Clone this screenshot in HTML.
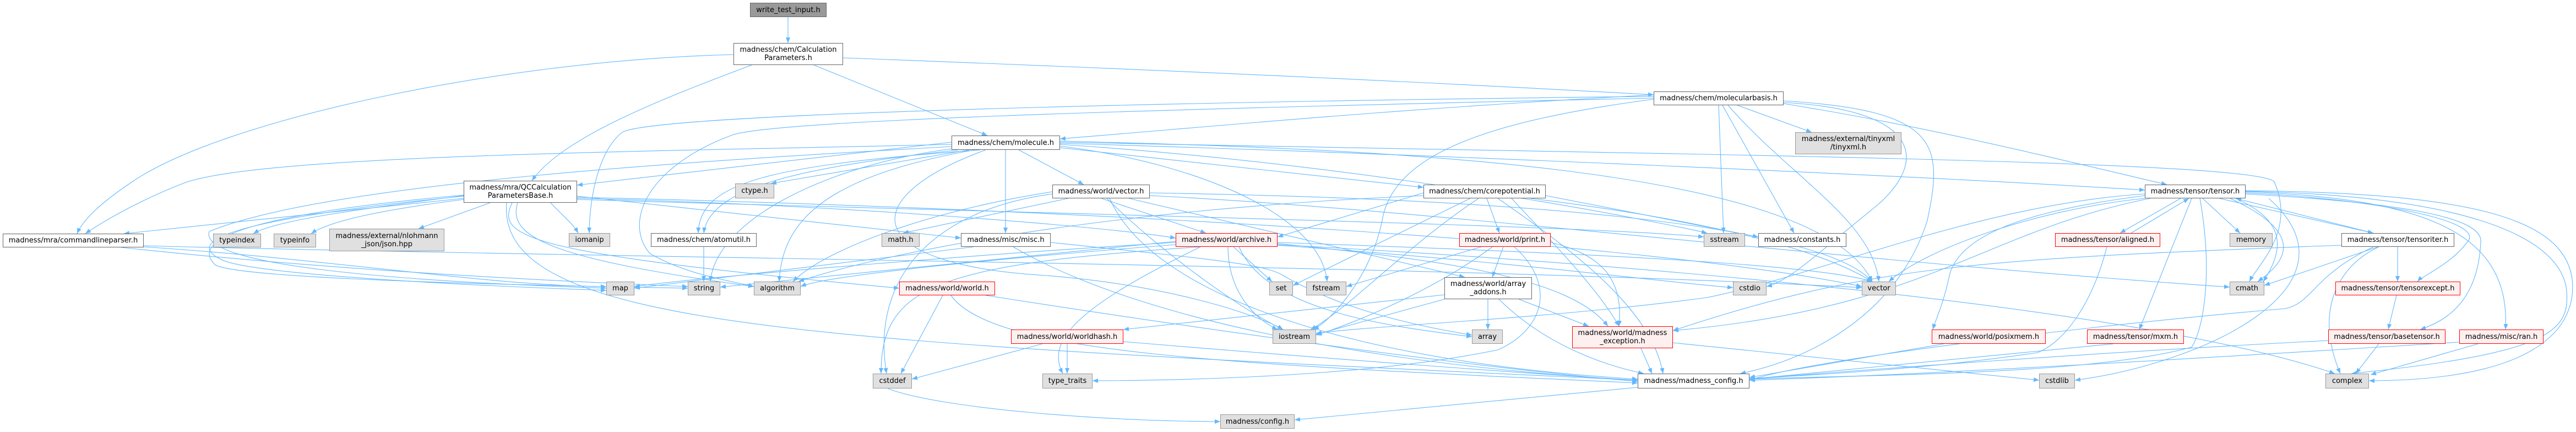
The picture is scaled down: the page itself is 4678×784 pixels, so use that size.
<!DOCTYPE html>
<html><head><meta charset="utf-8"><style>
html,body{margin:0;padding:0;background:#fff;}
#c{position:relative;width:4678px;height:784px;overflow:hidden;background:#fff;}
svg{position:absolute;left:0;top:0;}
.n{position:absolute;box-sizing:border-box;border:1px solid #666;background:#fff;display:flex;align-items:center;justify-content:center;text-align:center;font-family:"DejaVu Sans","Liberation Sans",sans-serif;font-size:13px;line-height:15px;color:#000;white-space:nowrap;}
.g{background:#e0e0e0;border-color:#999;}
.r{background:#fff0f0;border-color:#f00;}
.root{background:#999;border-color:#666;}
</style></head><body><div id="c">
<svg width="4678" height="784" viewBox="0 0 4678 784">
<defs><marker id="a" markerUnits="userSpaceOnUse" markerWidth="11" markerHeight="9" refX="10" refY="4" orient="auto"><path d="M0,0 L10,4 L0,8 z" fill="#63b8ff"/></marker></defs>
<g fill="none" stroke="#63b8ff" stroke-width="1.1" marker-end="url(#a)">
<path d="M1431,31 L1431,78"/>
<path d="M1365,118 C1200,180 1020,250 966,328"/>
<path d="M1478,118 L1793,246"/>
<path d="M1531,105 C2200,130 2700,155 3003,172"/>
<path d="M1332,99 C900,110 400,220 240,330 C180,370 150,400 140,424"/>
<path d="M1728,258 L1048,336"/>
<path d="M1728,262 C1200,275 500,280 340,330 C260,360 190,400 155,424"/>
<path d="M1728,266 C1300,290 600,330 380,420 C360,480 700,510 1101,523"/>
<path d="M1740,272 C1500,300 1290,330 1278,423"/>
<path d="M1780,272 C1400,300 1270,330 1268,423"/>
<path d="M1760,272 L1400,333"/>
<path d="M1770,272 C1500,320 1420,400 1415,511"/>
<path d="M1850,272 L1968,335"/>
<path d="M1826,272 L1826,423"/>
<path d="M1925,268 L2585,340"/>
<path d="M1925,265 C2200,300 2400,400 2410,511"/>
<path d="M1925,262 C2500,300 3000,400 3100,423"/>
<path d="M1925,260 C2600,280 3500,320 3895,345"/>
<path d="M1925,258 C3000,280 4100,290 4130,330 C4170,420 4100,480 4085,511"/>
<path d="M1925,256 C2500,270 3300,300 3400,511"/>
<path d="M1790,272 C1550,360 1560,480 1900,500 C2150,520 2300,580 2330,598"/>
<path d="M1728,270 C1500,300 1300,400 1290,511"/>
<path d="M842,355 C650,380 500,400 460,424"/>
<path d="M842,362 C700,380 600,400 565,424"/>
<path d="M890,368 L760,415"/>
<path d="M842,360 L225,424"/>
<path d="M1000,368 C1020,390 1040,405 1050,423"/>
<path d="M842,356 C600,380 300,420 400,470 C450,500 900,520 1101,527"/>
<path d="M842,354 C550,380 330,420 390,480 C430,510 1100,520 1249,523"/>
<path d="M940,368 C920,430 1000,470 1369,520"/>
<path d="M930,368 C900,430 950,460 1633,523"/>
<path d="M1048,356 L1745,432"/>
<path d="M1048,360 C1500,370 2000,410 2135,432"/>
<path d="M1048,358 C2000,380 3000,440 3381,520"/>
<path d="M920,368 C900,600 1500,620 2974,690"/>
<path d="M1048,362 C2000,390 2900,410 3094,430"/>
<path d="M261,448 C600,470 900,520 1101,520"/>
<path d="M220,449 C600,490 1000,510 1249,520"/>
<path d="M261,446 C1200,470 2600,480 3381,522"/>
<path d="M1278,448 L1278,511"/>
<path d="M2000,360 L2190,423"/>
<path d="M1940,360 L1640,423"/>
<path d="M2010,360 C2100,450 2250,560 2330,598"/>
<path d="M1911,348 C1700,380 1500,450 1440,511"/>
<path d="M2088,350 C2700,360 3300,400 3400,511"/>
<path d="M2050,360 L2660,503"/>
<path d="M2015,360 C2100,550 2500,660 2974,688"/>
<path d="M1911,352 C1700,380 1580,500 1610,678"/>
<path d="M2088,355 C2600,380 3300,470 4049,521"/>
<path d="M1768,448 L1152,523"/>
<path d="M1840,448 C2100,600 2600,670 2974,690"/>
<path d="M1908,440 C2200,470 2300,480 2330,500 C2400,540 2500,580 2673,608"/>
<path d="M1712,536 L1636,678"/>
<path d="M1790,536 C2200,600 2700,670 2974,692"/>
<path d="M1727,536 C1800,640 2200,660 2974,695"/>
<path d="M1893,624 L1656,688"/>
<path d="M1938,624 L1938,678"/>
<path d="M2040,620 C2400,650 2800,680 2974,690"/>
<path d="M2240,448 L2310,511"/>
<path d="M2230,448 C2230,530 2280,580 2320,598"/>
<path d="M2250,448 C2300,560 2500,590 2673,611"/>
<path d="M2135,440 C1800,460 1300,500 1152,520"/>
<path d="M2135,438 L1308,521"/>
<path d="M2135,444 C1800,470 1500,500 1454,520"/>
<path d="M2180,448 C1700,480 1600,520 1600,678"/>
<path d="M2320,442 C2600,470 2850,500 2920,592"/>
<path d="M2320,440 C2900,460 3300,480 3400,511"/>
<path d="M2180,448 C1950,560 1900,620 1930,678"/>
<path d="M2320,444 C3000,480 3900,560 4240,678"/>
<path d="M2320,445 C2800,480 3000,510 3147,522"/>
<path d="M2690,448 L2445,520"/>
<path d="M2710,448 C2600,530 2450,590 2390,608"/>
<path d="M2730,448 L2710,503"/>
<path d="M2750,448 C2830,520 2800,600 2720,635 C2500,680 2200,690 1984,691"/>
<path d="M2816,440 C2900,460 2950,500 2940,592"/>
<path d="M2623,535 L2040,598"/>
<path d="M2623,543 L2390,607"/>
<path d="M2702,543 L2702,598"/>
<path d="M2758,543 L2885,592"/>
<path d="M2722,543 C2800,620 2900,660 2985,678"/>
<path d="M2670,360 L2348,518"/>
<path d="M2685,360 C2550,450 2450,560 2380,598"/>
<path d="M2700,360 L2723,423"/>
<path d="M2745,360 C2800,420 2900,520 2940,592"/>
<path d="M2585,350 L2320,430"/>
<path d="M2720,360 C2850,450 3000,560 3020,678"/>
<path d="M2780,360 C3100,400 3300,450 3400,511"/>
<path d="M2807,355 L3193,430"/>
<path d="M2585,355 C2000,380 1600,460 1450,511"/>
<path d="M2980,632 L3000,678"/>
<path d="M3038,622 L3703,690"/>
<path d="M2974,703 L2351,762"/>
<path d="M1612,705 C1700,740 2000,765 2216,765"/>
<path d="M3155,191 L3290,240"/>
<path d="M3121,191 L3130,423"/>
<path d="M3128,191 L3258,423"/>
<path d="M3138,191 C3250,320 3400,400 3412,511"/>
<path d="M3239,186 C3500,200 3500,300 3400,380 C3300,460 3250,510 3208,520"/>
<path d="M3239,183 C3520,200 3530,260 3500,400 C3450,560 3300,650 3160,678"/>
<path d="M3239,188 C3500,230 3700,280 3935,335"/>
<path d="M3003,172 C2500,200 2200,230 1925,252"/>
<path d="M3003,180 C2700,220 2530,280 2510,400 C2490,500 2420,580 2385,598"/>
<path d="M3003,175 C2500,180 1200,200 1130,240 C1080,280 1070,380 1070,423"/>
<path d="M3003,178 C2000,200 1400,220 1330,245 C1180,300 1130,400 1180,460 C1250,500 1330,510 1369,520"/>
<path d="M3960,360 L3850,423"/>
<path d="M3870,423 L3975,360"/>
<path d="M4000,360 L4068,423"/>
<path d="M4030,360 L4310,423"/>
<path d="M4310,423 L4060,360"/>
<path d="M4060,360 C4150,400 4150,450 4110,511"/>
<path d="M4050,360 C4180,420 4160,470 4100,511"/>
<path d="M4078,350 C4300,360 4520,400 4480,440 C4450,480 4400,500 4390,511"/>
<path d="M4078,352 C4400,370 4510,400 4505,440 C4500,540 4450,580 4395,598"/>
<path d="M4078,348 C4400,360 4560,420 4550,598"/>
<path d="M4078,346 C4500,350 4650,400 4670,500 C4680,560 4660,690 4302,691"/>
<path d="M4078,347 C4450,355 4640,420 4660,520 C4670,600 4640,640 4270,678"/>
<path d="M3895,355 C3700,380 3560,420 3540,500 C3530,550 3515,580 3510,598"/>
<path d="M3980,360 L3885,598"/>
<path d="M3895,360 C3700,380 3500,450 3430,511"/>
<path d="M3995,360 C4020,500 4000,600 3980,630 C3800,680 3400,680 3177,688"/>
<path d="M3895,352 C3600,370 3300,500 3100,540 C2800,580 2500,590 2390,605"/>
<path d="M3905,360 C3600,420 3500,560 3038,600"/>
<path d="M4120,360 C4300,520 4000,660 3768,690"/>
<path d="M3826,448 C3800,550 3750,620 3700,640 C3500,670 3300,680 3177,687"/>
<path d="M4354,448 L4354,511"/>
<path d="M4318,448 L4112,518"/>
<path d="M4320,448 C4250,480 4200,560 4250,678"/>
<path d="M4252,445 C3600,470 3400,480 3038,600"/>
<path d="M4310,448 C4200,500 4200,550 4150,560 C3800,590 3300,650 3177,690"/>
<path d="M4352,536 L4337,598"/>
<path d="M4320,624 L4278,678"/>
<path d="M4228,618 C3800,640 3400,670 3177,688"/>
<path d="M4500,624 L4305,680"/>
<path d="M4480,620 C4000,650 3500,680 3177,690"/>
<path d="M3530,624 L3177,685"/>
<path d="M3838,624 L3177,688"/>
</g></svg>

<div class="n root" style="left:1362px;top:5px;width:139px;height:26px">write_test_input.h</div>
<div class="n" style="left:1332px;top:78px;width:199px;height:40px">madness/chem/Calculation<br>Parameters.h</div>
<div class="n" style="left:842px;top:328px;width:206px;height:40px">madness/mra/QCCalculation<br>ParametersBase.h</div>
<div class="n" style="left:1728px;top:246px;width:197px;height:26px">madness/chem/molecule.h</div>
<div class="n" style="left:3003px;top:166px;width:236px;height:25px">madness/chem/molecularbasis.h</div>
<div class="n" style="left:5px;top:424px;width:256px;height:25px">madness/mra/commandlineparser.h</div>
<div class="n g" style="left:387px;top:424px;width:87px;height:25px">typeindex</div>
<div class="n g" style="left:497px;top:424px;width:77px;height:25px">typeinfo</div>
<div class="n g" style="left:598px;top:415px;width:209px;height:41px">madness/external/nlohmann<br>_json/json.hpp</div>
<div class="n g" style="left:1335px;top:333px;width:71px;height:27px">ctype.h</div>
<div class="n" style="left:1911px;top:335px;width:177px;height:25px">madness/world/vector.h</div>
<div class="n" style="left:2585px;top:335px;width:222px;height:25px">madness/chem/corepotential.h</div>
<div class="n g" style="left:3260px;top:240px;width:193px;height:40px">madness/external/tinyxml<br>/tinyxml.h</div>
<div class="n" style="left:3895px;top:335px;width:183px;height:25px">madness/tensor/tensor.h</div>
<div class="n g" style="left:1033px;top:423px;width:75px;height:25px">iomanip</div>
<div class="n" style="left:1182px;top:423px;width:192px;height:25px">madness/chem/atomutil.h</div>
<div class="n g" style="left:1601px;top:423px;width:69px;height:25px">math.h</div>
<div class="n" style="left:1745px;top:423px;width:163px;height:25px">madness/misc/misc.h</div>
<div class="n r" style="left:2135px;top:423px;width:185px;height:25px">madness/world/archive.h</div>
<div class="n r" style="left:2650px;top:423px;width:166px;height:25px">madness/world/print.h</div>
<div class="n g" style="left:3094px;top:423px;width:75px;height:25px">sstream</div>
<div class="n" style="left:3193px;top:423px;width:160px;height:25px">madness/constants.h</div>
<div class="n r" style="left:3732px;top:423px;width:191px;height:25px">madness/tensor/aligned.h</div>
<div class="n g" style="left:4049px;top:423px;width:78px;height:25px">memory</div>
<div class="n" style="left:4252px;top:423px;width:205px;height:25px">madness/tensor/tensoriter.h</div>
<div class="n g" style="left:1101px;top:511px;width:51px;height:25px">map</div>
<div class="n g" style="left:1249px;top:511px;width:59px;height:25px">string</div>
<div class="n g" style="left:1369px;top:511px;width:85px;height:25px">algorithm</div>
<div class="n r" style="left:1633px;top:511px;width:174px;height:25px">madness/world/world.h</div>
<div class="n g" style="left:2305px;top:511px;width:43px;height:25px">set</div>
<div class="n g" style="left:2372px;top:511px;width:73px;height:25px">fstream</div>
<div class="n" style="left:2623px;top:503px;width:159px;height:40px">madness/world/array<br>_addons.h</div>
<div class="n g" style="left:3147px;top:511px;width:61px;height:25px">cstdio</div>
<div class="n g" style="left:3381px;top:511px;width:62px;height:25px">vector</div>
<div class="n g" style="left:4049px;top:511px;width:63px;height:25px">cmath</div>
<div class="n r" style="left:4241px;top:511px;width:227px;height:25px">madness/tensor/tensorexcept.h</div>
<div class="n r" style="left:1836px;top:598px;width:204px;height:26px">madness/world/worldhash.h</div>
<div class="n g" style="left:2311px;top:598px;width:79px;height:26px">iostream</div>
<div class="n g" style="left:2673px;top:598px;width:56px;height:26px">array</div>
<div class="n r" style="left:2855px;top:592px;width:183px;height:40px">madness/world/madness<br>_exception.h</div>
<div class="n r" style="left:3508px;top:598px;width:207px;height:26px">madness/world/posixmem.h</div>
<div class="n r" style="left:3790px;top:598px;width:176px;height:26px">madness/tensor/mxm.h</div>
<div class="n r" style="left:4228px;top:598px;width:213px;height:26px">madness/tensor/basetensor.h</div>
<div class="n r" style="left:4466px;top:598px;width:153px;height:26px">madness/misc/ran.h</div>
<div class="n g" style="left:1585px;top:678px;width:71px;height:27px">cstddef</div>
<div class="n g" style="left:1893px;top:678px;width:91px;height:27px">type_traits</div>
<div class="n" style="left:2974px;top:678px;width:203px;height:27px">madness/madness_config.h</div>
<div class="n g" style="left:3703px;top:678px;width:65px;height:27px">cstdlib</div>
<div class="n g" style="left:4223px;top:678px;width:79px;height:27px">complex</div>
<div class="n g" style="left:2216px;top:752px;width:135px;height:26px">madness/config.h</div>
</div></body></html>
